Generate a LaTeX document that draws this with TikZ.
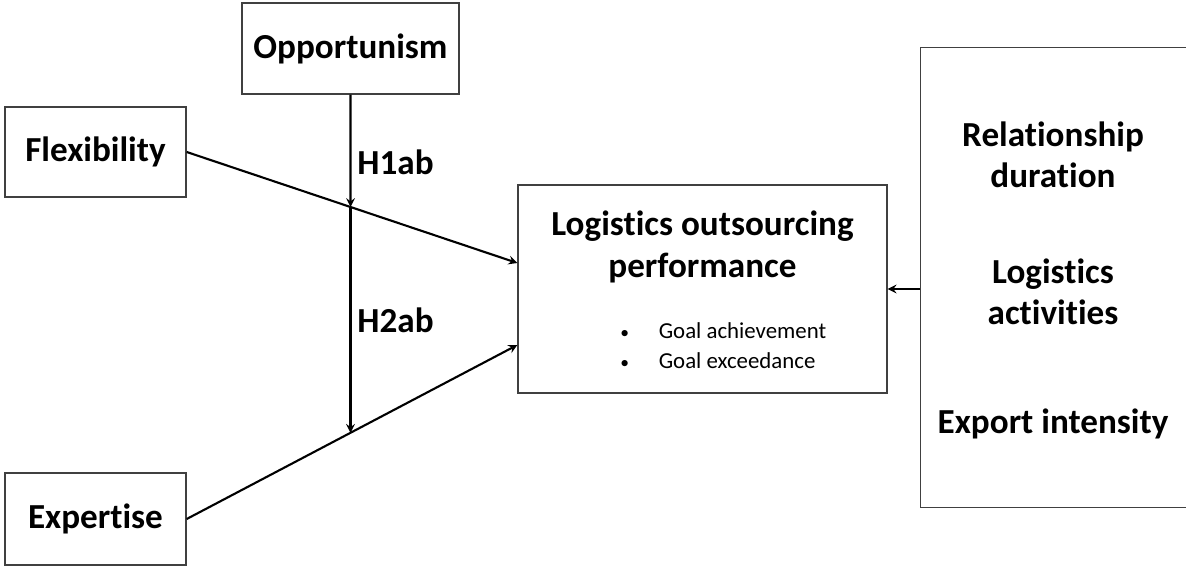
\documentclass[tikz,border=0pt]{standalone}
\usepackage{fontspec}
\setmainfont{Carlito}[Ligatures=NoCommon]
\usetikzlibrary{arrows}
\tikzstyle{factor} = [rectangle, draw=black!75, line width=0.8pt, minimum width=3.62cm, minimum height=1.8cm, text centered, font=\fontsize{20}{24}\selectfont\bfseries]
\tikzstyle{hyp} = [font=\fontsize{20}{23.5}\selectfont\bfseries]
\tikzstyle{arrow} = [line width=1.2pt,->,>=stealth]
\newcommand{\goalitem}{{\fontsize{10}{10}\selectfont\textbullet}\hspace{1.3em}}

\begin{document}
\begin{tikzpicture}
    \useasboundingbox (0,0) rectangle (23.72,-11.32);
    \node (opp) [factor, minimum width=4.34cm, minimum height=1.82cm] at (7.01,-0.97) {Opportunism};
    \node (flex) [factor] at (1.91,-3.04) {Flexibility};
    \node (expe) [factor, minimum height=1.84cm] at (1.91,-10.38) {Expertise};
    \node (perf) [factor, minimum width=7.38cm, minimum height=4.16cm] at (14.05,-5.78) {};
    % the control box runs off the right edge, so only three sides show
    \node (ctrl) [factor, draw=none, minimum width=5.8cm, minimum height=9.18cm] at (21.32,-5.55) {};
    \draw [draw=black!75, line width=0.8pt] (23.72,0 |- ctrl.north) -- (ctrl.north west) -- (ctrl.south west) -- (23.72,0 |- ctrl.south);
    % texts inside the outcome box
    \node (title) [hyp, align=center] at (14.05,-4.94) {Logistics outsourcing\\performance};
    \node (goals) [anchor=west, inner sep=0pt, align=left, font=\fontsize{13}{17}\selectfont] at (12.4,-6.92) {\goalitem Goal achievement\\\goalitem Goal exceedance};
    % control variables
    \node (dur) [hyp, align=center] at (21.06,-3.10) {Relationship\\duration};
    \node (act) [hyp, align=center] at (21.06,-5.84) {Logistics\\activities};
    \node (expi) [hyp] at (21.06,-8.48) {Export intensity};
    \coordinate (fin) at ([yshift=0.52cm]perf.west);
    \coordinate (ein) at ([yshift=-1.12cm]perf.west);
    \coordinate (h1) at (intersection of opp.north--opp.south and flex.east--fin);
    \coordinate (h2) at (intersection of opp.north--opp.south and expe.east--ein);
    \draw [arrow] (flex.east) -- (fin);
    \draw [arrow] (expe.east) -- (ein);
    \draw [arrow] (opp) -- node[hyp, right, pos=0.6] {H1ab} (h1);
    \draw [arrow] (h1) -- node[hyp, right] {H2ab} (h2);
    \draw [arrow] (ctrl.west |- perf.east) -- (perf.east);
\end{tikzpicture}
\end{document}
